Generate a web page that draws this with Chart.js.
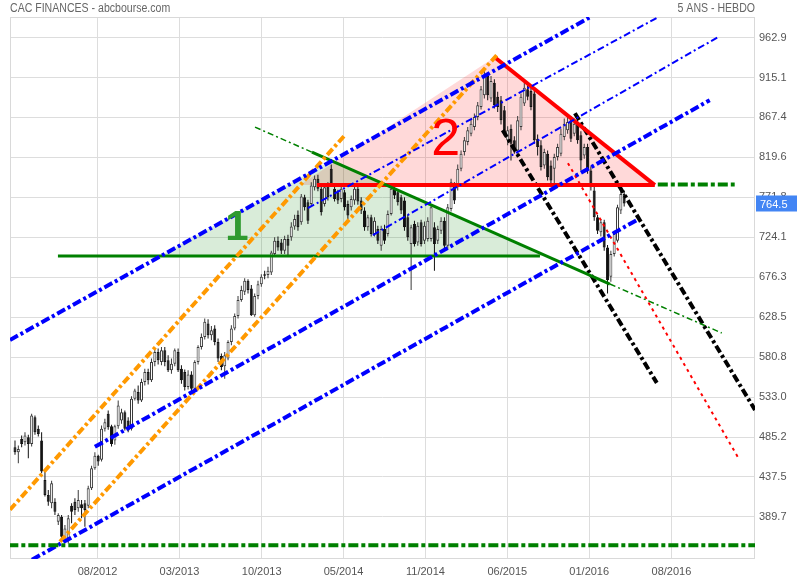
<!DOCTYPE html>
<html>
<head>
<meta charset="utf-8">
<script src="https://cdn.jsdelivr.net/npm/chart.js@4.4.0/dist/chart.umd.min.js"></script>
<style>
  html, body { margin: 0; padding: 0; background: #fff; }
  canvas { display: block; }
</style>
</head>
<body>
<canvas id="graphique" width="800" height="580"></canvas>
<script>
// Bougies hebdo CAC FINANCES
var ouverture = [473,467,483,479,485,477,509,495,481,434,416,406,408,384,390,364,364,403,408,400,405,406,403,424,448,463,458,495,513,498,481,498,505,515,505,495,531,
  539,529,551,563,553,575,587,575,589,577,565,573,587,567,563,545,560,543,575,593,605,621,607,615,599,582,570,579,599,615,630,649,659,672,663,631,654,668,680,679,682,704,720,718,708,722,724,737,751,742,772,766,764,784,794,782,764,786,806,782,778,770,778,764,760,768,782,768,756,736,748,728,734,714,734,728,752,782,778,772,768,748,716,740,718,742,720,722,722,736,720,732,744,714,758,786,784,806,826,838,848,856,868,880,894,917,890,909,892,888,876,840,854,840,828,856,884,901,899,896,842,834,810,824,810,806,820,824,844,852,864,848,860,846,822,832,804,780,748,730,742,712,677,704,720,756,776];
var plusHaut = [481,475,487,491,488,513,511,499,491,446,422,433,412,394,392,380,392,406,412,422,410,410,427,451,467,464,499,507,517,500,500,529,519,517,509,534,543,
  547,555,567,567,579,591,591,593,593,583,579,591,591,571,566,565,564,577,595,609,627,626,618,619,603,585,587,601,619,633,654,666,675,674,667,657,672,680,684,689,708,724,725,722,726,727,742,751,756,776,775,769,790,798,799,786,787,790,811,786,781,786,781,768,774,786,786,772,760,751,751,748,738,738,739,756,786,787,781,775,772,751,739,744,742,745,743,748,763,742,738,748,748,764,794,790,811,828,844,856,865,872,886,905,923,921,917,913,898,893,881,857,859,845,869,896,909,906,905,899,847,840,830,828,816,824,836,854,866,869,869,866,866,851,836,836,809,785,751,746,745,715,708,732,763,780,780];
var plusBas = [464,454,473,475,460,474,488,486,442,414,403,400,392,380,362,361,358,382,392,396,388,378,400,422,446,451,456,492,494,474,476,495,501,493,491,493,529,
  525,527,547,548,551,570,572,571,570,563,561,570,563,549,541,542,537,541,572,590,602,603,601,595,575,565,555,577,595,613,627,647,655,657,630,629,650,665,674,675,679,702,708,704,704,702,720,733,732,739,756,740,761,780,779,750,761,768,785,767,764,766,756,746,756,763,763,752,732,732,725,725,716,708,716,725,750,770,762,752,732,720,661,713,714,713,716,719,719,684,716,728,710,710,755,764,780,803,822,834,845,852,864,877,890,888,886,878,874,859,845,834,816,824,822,852,881,888,876,836,822,804,806,792,788,786,816,821,840,848,838,845,836,804,818,800,780,744,728,725,708,657,671,701,718,752,761];
var cloture = [467,471,477,487,477,511,491,489,444,416,408,430,396,392,366,376,388,396,398,410,400,398,424,448,463,456,495,503,497,477,498,523,515,495,493,531,541,
  529,551,563,553,575,587,577,589,575,565,573,589,565,553,545,560,543,575,593,605,623,607,613,599,579,569,583,599,615,630,649,661,672,661,631,654,668,677,678,684,706,720,712,708,722,714,737,746,736,773,760,744,786,794,782,754,784,772,788,770,768,782,760,750,770,782,767,756,736,748,728,744,720,734,720,752,782,774,766,756,736,724,736,716,738,716,738,744,760,716,734,744,714,760,790,768,806,824,840,852,860,868,882,901,917,894,911,882,880,864,848,852,836,828,864,892,903,892,880,840,832,808,826,796,792,820,832,848,860,862,842,860,840,816,832,804,784,748,732,742,712,673,704,728,760,776,764.5];

// Axes
var xMin = -1.5, xMax = 222.3;
var xTicksPos = [24.8, 49.4, 74.1, 98.7, 123.3, 147.9, 172.5, 197.2];
var xTicksLabels = ['08/2012', '03/2013', '10/2013', '05/2014', '11/2014', '06/2015', '01/2016', '08/2016'];
var yMin = 339.4, yMax = 987.5;
var yTicks = [962.9, 915.1, 867.4, 819.6, 771.8, 724.1, 676.3, 628.5, 580.8, 533.0, 485.2, 437.5, 389.7];

// Lignes tracees (x = numero de semaine, y = cours)
var supportBas = [[-2, 355.9], [224, 355.9]];
var canalBleuHaut = [[-1.5, 601.3], [172.7, 987.1]];
var bleuFin1 = [[88.0, 759.0], [193.1, 987.1]];
var bleuFin2 = [[107.5, 726.7], [211.1, 963.3]];
var canalBleuMilieu = [[24.0, 473.5], [208.7, 888.0]];
var canalBleuBas = [[5.1, 338.5], [186.8, 744.7]];
var orangeHaut = [[-1.5, 398.3], [99.1, 846.2]];
var orangeBas = [[13.5, 360.0], [144.7, 941.8]];
var baseTriangle1 = [[12.9, 701.7], [157.7, 701.7]];
var penteTriangle1 = [[89.2, 825.9], [178.7, 668.2]];
var penteAvant = [[72.1, 855.8], [89.2, 825.9]];
var penteApres = [[178.7, 668.2], [212.3, 609.7]];
var triangle1 = [[43.5, 701.7], [95.2, 816.3], [158.6, 701.7], [43.5, 701.7]];
var baseTriangle2 = [[90.7, 786.5], [192.2, 786.5]];
var penteTriangle2 = [[144.1, 939.4], [192.2, 786.5]];
var triangle2 = [[85.5, 786.5], [144.1, 939.4], [192.2, 786.5], [85.5, 786.5]];
var resistance = [[193.1, 787.3], [216.2, 787.3]];
var baisse1 = [[146.5, 852.2], [192.8, 550.0]];
var baisse2 = [[168.2, 872.5], [222.3, 517.7]];
var baisseRouge = [[166.1, 812.7], [217.1, 461.6]];

var etiquettesTexte = ['1', '2'];
var etiquettesX = [66.7, 129.4];
var etiquettesY = [735.1, 840.2];

function pts(liste) {
  return liste.map(function (p) { return { x: p[0], y: p[1] }; });
}

function ligne(liste, couleur, epaisseur, tirets) {
  return {
    type: 'line',
    data: pts(liste),
    borderColor: couleur,
    borderWidth: epaisseur,
    borderDash: tirets || [],
    pointRadius: 0,
    fill: false,
    tension: 0,
    order: 1
  };
}

function zone(liste, couleur) {
  return {
    type: 'line',
    data: pts(liste),
    backgroundColor: couleur,
    borderWidth: 0,
    pointRadius: 0,
    fill: 'shape',
    tension: 0,
    order: 50
  };
}

var meches = [], corps = [], couleurCorps = [], bordCorps = [], couleurMeche = [];
for (var i = 0; i < cloture.length; i++) {
  var hausse = cloture[i] >= ouverture[i];
  meches.push({ x: i, y: [plusBas[i], plusHaut[i]] });
  corps.push({ x: i, y: [ouverture[i], cloture[i]] });
  couleurCorps.push(hausse ? '#ffffff' : '#111111');
  bordCorps.push(hausse ? '#3a3a3a' : '#111111');
  couleurMeche.push(hausse ? '#3a3a3a' : '#111111');
}

var tiretBleu = [9, 3, 3, 3];
var tiretFin = [7, 3, 2, 3];

var datasets = [
  zone(triangle1, 'rgba(0,128,0,0.15)'),
  zone(triangle2, 'rgba(255,0,0,0.15)'),
  {
    type: 'bar', data: meches, backgroundColor: couleurMeche, barThickness: 1,
    grouped: false, inflateAmount: 0, order: 20
  },
  {
    type: 'bar', data: corps, backgroundColor: couleurCorps, borderColor: bordCorps,
    borderWidth: 1, borderSkipped: false, barThickness: 3, minBarLength: 1,
    grouped: false, inflateAmount: 0, order: 19
  },
  ligne(supportBas, '#008000', 4, [10, 3, 4, 3]),
  ligne(canalBleuHaut, '#0000ff', 4, tiretBleu),
  ligne(bleuFin1, '#0000ff', 2, tiretFin),
  ligne(bleuFin2, '#0000ff', 2, tiretFin),
  ligne(canalBleuMilieu, '#0000ff', 4, tiretBleu),
  ligne(canalBleuBas, '#0000ff', 4, tiretBleu),
  ligne(orangeHaut, '#ff9900', 4, [8, 3, 3, 3]),
  ligne(orangeBas, '#ff9900', 4, [8, 3, 3, 3]),
  ligne(baseTriangle1, '#008000', 3),
  ligne(penteTriangle1, '#008000', 3),
  ligne(penteAvant, '#008000', 1.5, [6, 3, 2, 3]),
  ligne(penteApres, '#008000', 1.5, [6, 3, 2, 3]),
  ligne(baseTriangle2, '#ff0000', 4),
  ligne(penteTriangle2, '#ff0000', 4),
  ligne(resistance, '#008000', 4, [10, 3, 4, 3]),
  ligne(baisse1, '#000000', 4, [8, 3, 3, 3]),
  ligne(baisse2, '#000000', 4, [8, 3, 3, 3]),
  ligne(baisseRouge, '#ff0000', 2, [3, 4])
];

var decor = {
  id: 'decor',
  beforeDatasetsDraw: function (chart) {
    var a = chart.chartArea, ctx = chart.ctx;
    ctx.save();
    ctx.strokeStyle = '#d9d9d9';
    ctx.lineWidth = 1;
    ctx.strokeRect(a.left + 0.5, a.top + 0.5, a.right - a.left - 1, a.bottom - a.top - 1);
    ctx.restore();
  },
  afterDraw: function (chart) {
    var ctx = chart.ctx, a = chart.chartArea;
    var sx = chart.scales.x, sy = chart.scales.y;
    ctx.save();
    // titres (police etroite)
    ctx.fillStyle = '#666';
    ctx.font = "12px 'Liberation Sans', Arial, sans-serif";
    ctx.textBaseline = 'middle';
    ctx.save();
    ctx.translate(10, 9);
    ctx.scale(0.88, 1);
    ctx.textAlign = 'left';
    ctx.fillText('CAC FINANCES - abcbourse.com', 0, 0);
    ctx.restore();
    ctx.save();
    ctx.translate(a.right, 9);
    ctx.scale(0.88, 1);
    ctx.textAlign = 'right';
    ctx.fillText('5 ANS - HEBDO', 0, 0);
    ctx.restore();
    // etiquettes 1 et 2
    ctx.textAlign = 'center';
    ctx.fillStyle = '#2f9a2f';
    ctx.font = "bold 42px 'Liberation Sans', Arial, sans-serif";
    ctx.fillText(etiquettesTexte[0], sx.getPixelForValue(etiquettesX[0]), sy.getPixelForValue(etiquettesY[0]));
    ctx.fillStyle = '#ff0000';
    ctx.font = "52px 'Liberation Sans', Arial, sans-serif";
    ctx.fillText(etiquettesTexte[1], sx.getPixelForValue(etiquettesX[1]), sy.getPixelForValue(etiquettesY[1]));
    // dernier cours
    var dernier = cloture[cloture.length - 1];
    var py = sy.getPixelForValue(dernier);
    ctx.fillStyle = '#4285f4';
    ctx.fillRect(a.right + 1, py - 8, 41, 16);
    ctx.fillStyle = '#ffffff';
    ctx.font = "11px 'Liberation Sans', Arial, sans-serif";
    ctx.textAlign = 'left';
    ctx.fillText(dernier.toFixed(1), a.right + 5, py + 1);
    ctx.restore();
  }
};

new Chart(document.getElementById('graphique').getContext('2d'), {
  type: 'bar',
  data: { datasets: datasets },
  options: {
    responsive: false,
    animation: false,
    devicePixelRatio: 1,
    layout: { padding: { left: 10, top: 17, right: 0, bottom: 0 } },
    plugins: { legend: { display: false }, tooltip: { enabled: false } },
    scales: {
      x: {
        type: 'linear',
        min: xMin,
        max: xMax,
        offset: false,
        grid: { color: '#dddddd', drawTicks: false, offset: false },
        border: { display: false },
        afterBuildTicks: function (axis) {
          axis.ticks = xTicksPos.map(function (v) { return { value: v }; });
        },
        afterFit: function (axis) { axis.height = 21; },
        ticks: {
          autoSkip: false,
          maxRotation: 0,
          padding: 6,
          color: '#555',
          font: { size: 11, family: "'Liberation Sans', Arial, sans-serif" },
          callback: function (v, idx) { return xTicksLabels[idx]; }
        }
      },
      y: {
        type: 'linear',
        position: 'right',
        min: yMin,
        max: yMax,
        grid: { color: '#dddddd', drawTicks: false },
        border: { display: false },
        afterBuildTicks: function (axis) {
          axis.ticks = yTicks.map(function (v) { return { value: v }; });
        },
        afterFit: function (axis) { axis.width = 45; },
        ticks: {
          padding: 4,
          color: '#555',
          font: { size: 11, family: "'Liberation Sans', Arial, sans-serif" },
          callback: function (v) { return v.toFixed(1); }
        }
      }
    }
  },
  plugins: [decor]
});
</script>
</body>
</html>
